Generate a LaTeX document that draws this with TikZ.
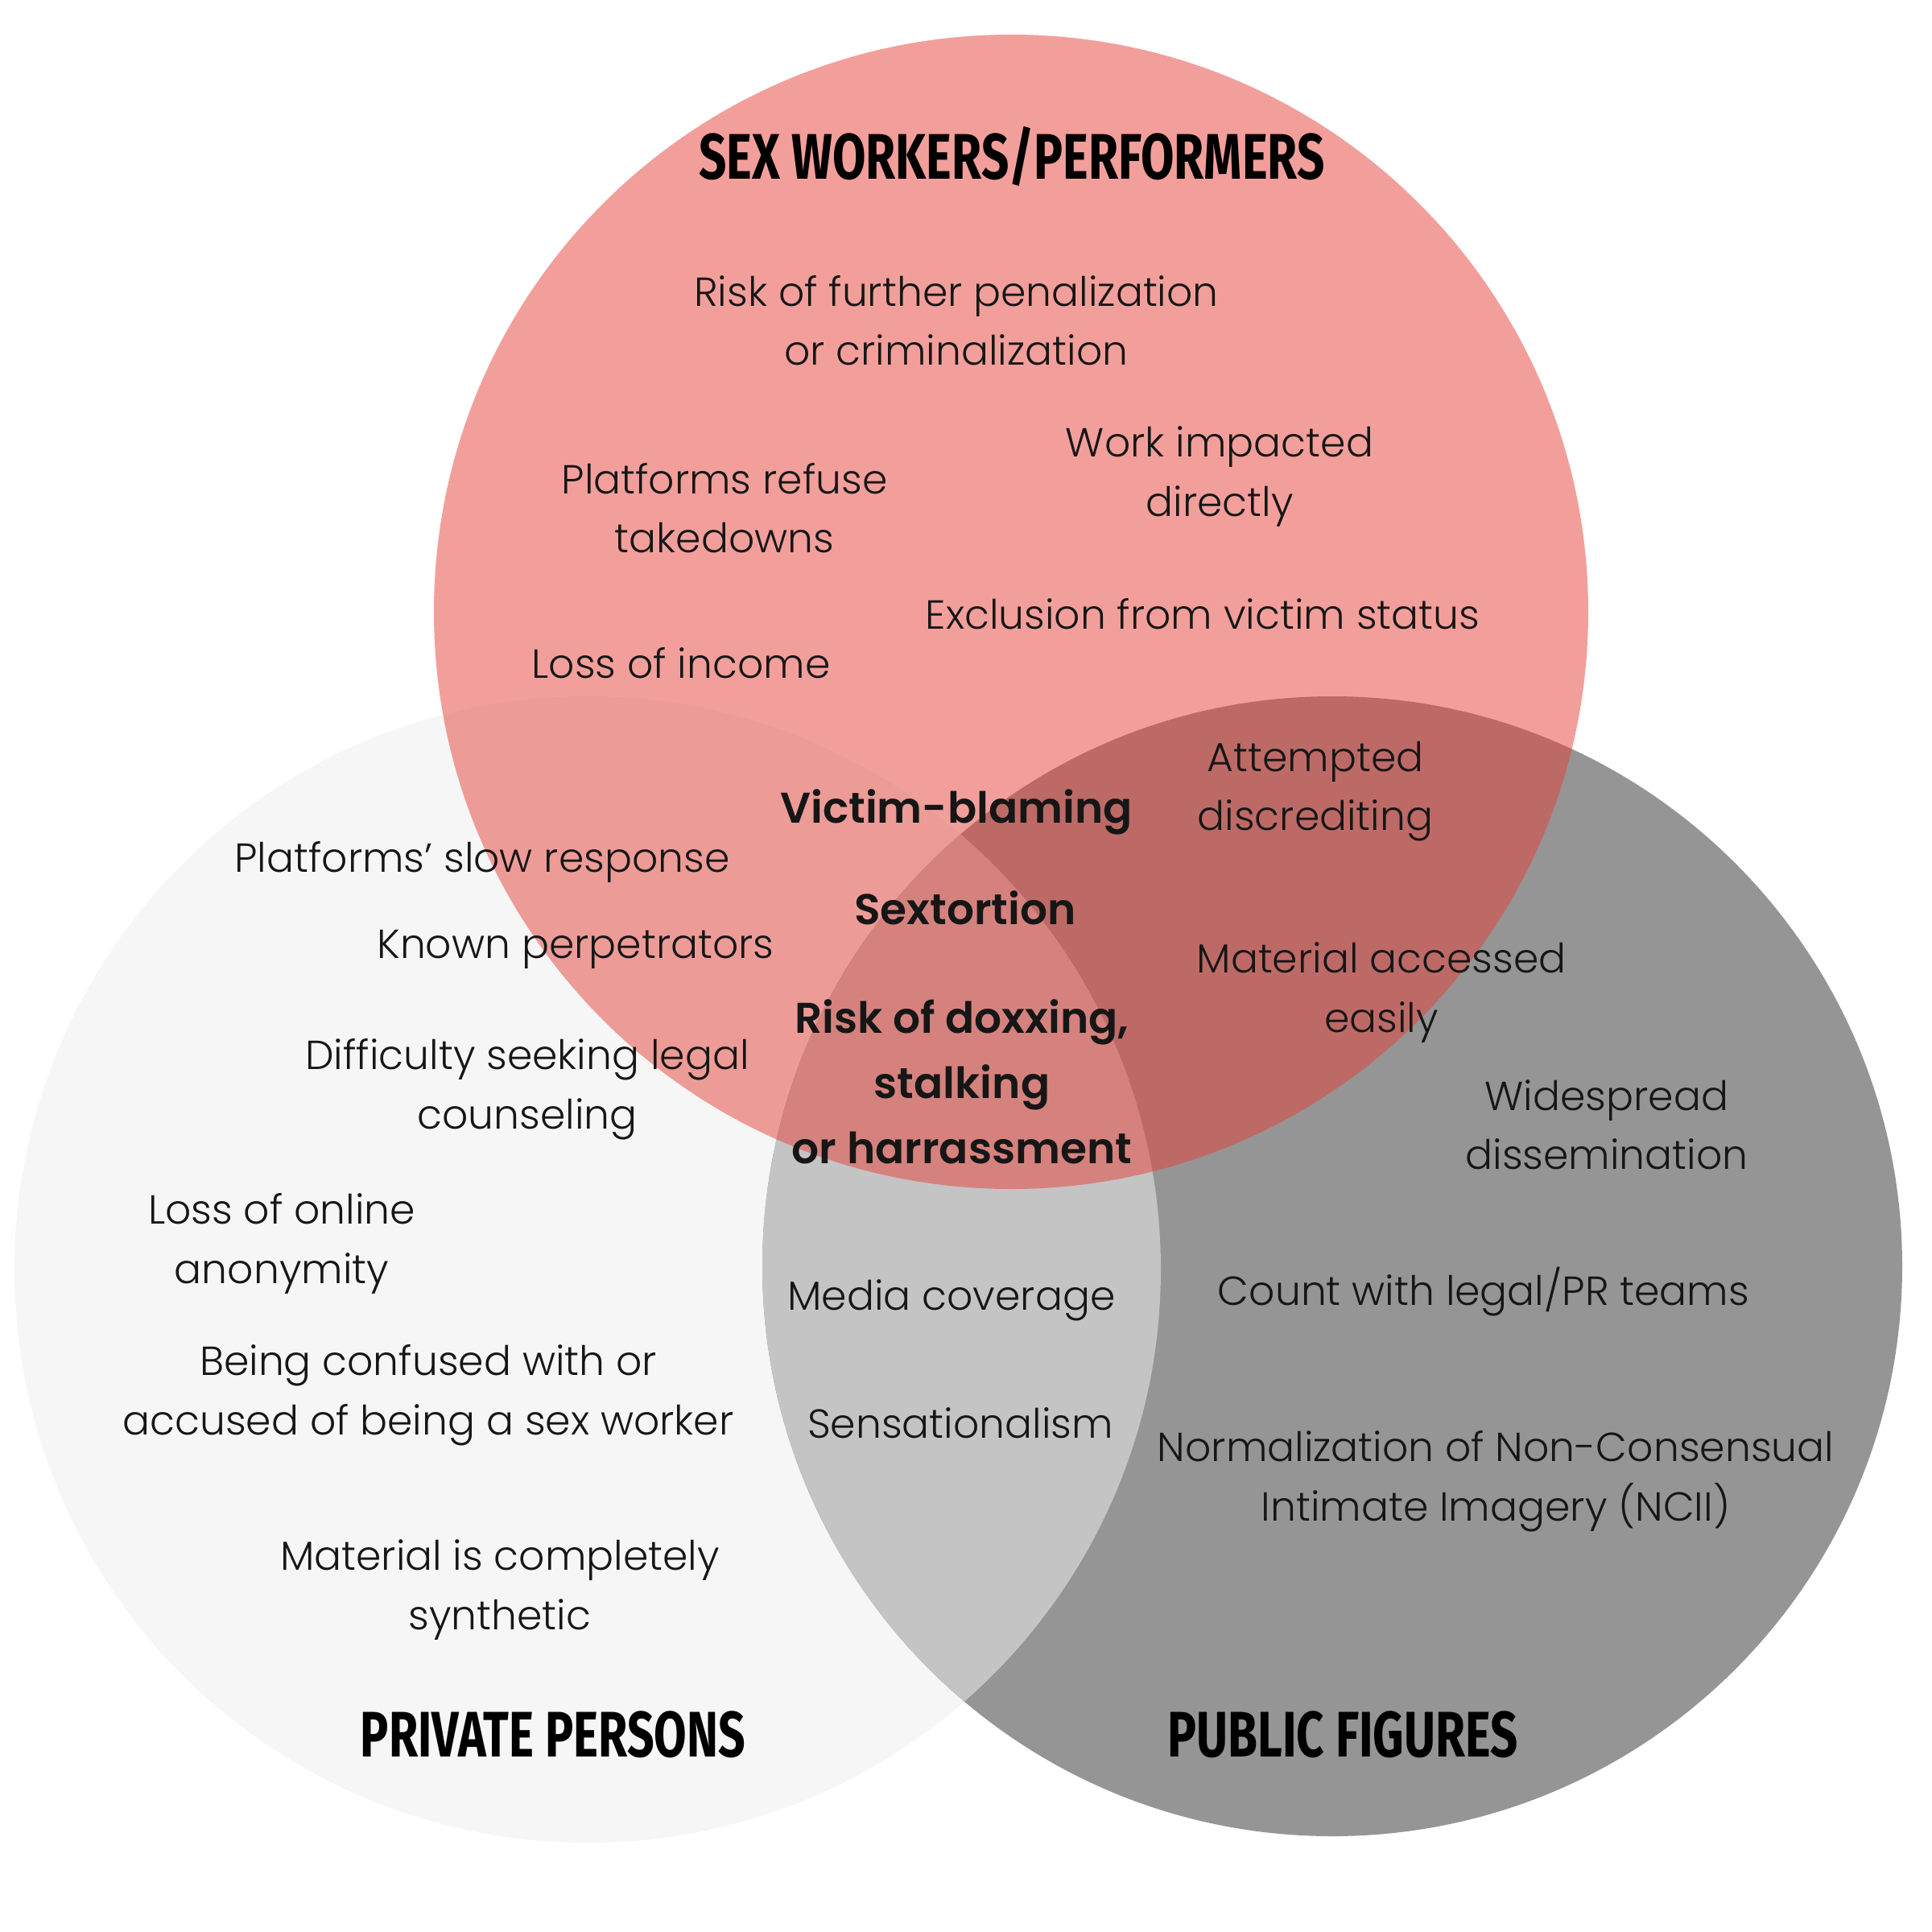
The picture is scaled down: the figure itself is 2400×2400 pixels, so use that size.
\documentclass[tikz,border=0pt]{standalone}
\usepackage{fontspec}
\usepackage{graphicx}
\setmainfont{Poppins}[UprightFont={* Light}, BoldFont={* SemiBold}]
\newfontfamily\titlefont{Fira Sans}
\definecolor{pinkA}{RGB}{230,65,57}
\definecolor{grayB}{RGB}{246,246,246}
\definecolor{grayC}{RGB}{149,149,149}
\definecolor{grayBC}{RGB}{196,196,196}
\definecolor{ink}{RGB}{22,22,22}
\newcommand\ttlbox[2]{\resizebox{#1}{\height}{\titlefont\bfseries\fontsize{40}{44}\selectfont #2}}
\begin{document}
\begin{tikzpicture}[x=0.5pt,y=-0.5pt,
  body/.style={font=\fontsize{25.2}{36.75}\selectfont, align=center, inner sep=0pt, text=ink},
  strong/.style={font=\fontsize{26.7}{40.5}\selectfont\bfseries, align=center, inner sep=0pt, text=ink},
  ttl/.style={inner sep=0pt, text=black}]
\useasboundingbox (0,0) rectangle (2400,2400);
\fill[white] (0,0) rectangle (2400,2400);
% circles
\fill[grayB] (730,1577) circle[radius=356pt];
\fill[grayC] (1655,1573) circle[radius=354pt];
\begin{scope}
  \clip (730,1577) circle[radius=356pt];
  \fill[grayBC] (1655,1573) circle[radius=354pt];
\end{scope}
\fill[pinkA, fill opacity=0.5] (1256,760) circle[radius=358.5pt];
% titles
\node[ttl] (t1) at (1257,194) {\ttlbox{388.5pt}{SEX WORKERS/PERFORMERS}};
\node[ttl] (t2) at (687,2155) {\ttlbox{239pt}{PRIVATE PERSONS}};
\node[ttl] (t3) at (1668,2155) {\ttlbox{217.5pt}{PUBLIC FIGURES}};
% sex workers only
\node[body] (a1) at (1188,398) {Risk of further penalization\\or criminalization};
\node[body] (a2) at (900,631) {Platforms refuse\\takedowns};
\node[body] (a3) at (1515,592) {Work impacted\\directly};
\node[body] (a4) at (1494,763) {Exclusion from victim status};
\node[body] (a5) at (846,824) {Loss of income};
% centre
\node[strong] (m1) at (1188,1009) {Victim-blaming};
\node[strong] (m2) at (1199,1128) {Sextortion};
\node[strong] (m3) at (1195,1344) {Risk of doxxing,\\stalking\\or harrassment};
% sex workers & public figures
\node[body] (ac1) at (1634,983) {Attempted\\discrediting};
\node[body] (ac2) at (1716,1233) {Material accessed\\easily};
% public figures only
\node[body] (c1) at (1996,1397) {Widespread\\dissemination};
\node[body] (c2) at (1843,1605) {Count with legal/PR teams};
\node[body] (c3) at (1858,1840) {Normalization of Non-Consensual\\Intimate Imagery (NCII)};
% private & public
\node[body] (bc1) at (1182,1615) {Media coverage};
\node[body] (bc2) at (1193,1768) {Sensationalism};
% private persons
\node[body] (b1) at (599,1071) {Platforms’ slow response};
\node[body] (b2) at (715,1179) {Known perpetrators};
\node[body] (b3) at (655,1353) {Difficulty seeking legal\\counseling};
\node[body] (b4) at (350,1545) {Loss of online\\anonymity};
\node[body] (b5) at (532,1733) {Being confused with or\\accused of being a sex worker};
\node[body] (b6) at (621,1975) {Material is completely\\synthetic};
\end{tikzpicture}
\end{document}
